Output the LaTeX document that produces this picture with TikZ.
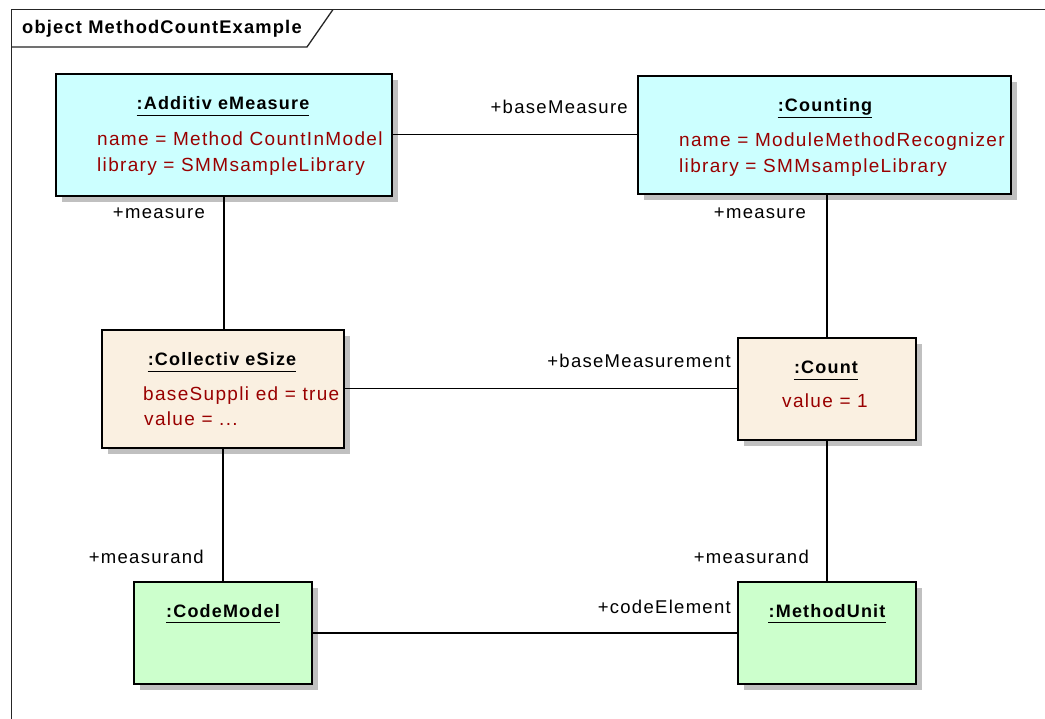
\documentclass[tikz,border=0pt]{standalone}
\usepackage{fontspec}
\setmainfont{Liberation Sans}
\newfontfamily\attrfont{Liberation Sans}[LetterSpace=7]
\newfontfamily\headfont{Liberation Sans}[LetterSpace=6.5]
\usetikzlibrary{shadows}

\definecolor{measurefill}{HTML}{CCFFFF}
\definecolor{valuefill}{HTML}{FAF0E1}
\definecolor{codefill}{HTML}{CCFFCC}
\definecolor{attrred}{HTML}{990000}
\definecolor{shadowgray}{HTML}{C0C0C0}

\tikzset{
  obj/.style={draw=black, line width=1.6pt, anchor=north west, inner sep=0pt,
    drop shadow={shadow xshift=6pt, shadow yshift=-6pt, fill=shadowgray, opacity=1}},
  measureobj/.style={obj, fill=measurefill},
  valueobj/.style={obj, fill=valuefill},
  codeobj/.style={obj, fill=codefill},
  objtitle/.style={anchor=base, inner sep=0pt,
    font=\headfont\fontsize{18}{21}\bfseries\selectfont},
  uline/.style={line width=1.4pt},
  attr/.style={anchor=base west, inner sep=0pt, text=attrred,
    font=\attrfont\fontsize{19}{22}\selectfont},
  rolelbl/.style={anchor=base east, inner sep=0pt,
    font=\attrfont\fontsize{18.5}{22}\selectfont},
  link/.style={line width=1.4pt},
  frameline/.style={line width=1.3pt, draw=black!85},
}

\begin{document}
\begin{tikzpicture}[x=1pt, y=-1pt]
\useasboundingbox (0,0) rectangle (1045,719);
\fill[white] (0,0) rectangle (1045,719);
\clip (0,0) rectangle (1045,719);

% diagram frame with its name tab
\draw[frameline] (11.5,740) -- (11.5,9.5) -- (1060,9.5);
\draw[frameline] (11.5,47) -- (307,47) -- (333,9.5);
\node[anchor=base west, inner sep=0pt, font=\headfont\fontsize{18.3}{21}\bfseries\selectfont]
  (frametitle) at (22,34) {object MethodCountExample};

% object boxes
\node[measureobj, minimum width=336pt, minimum height=122pt] (am) at (55,73) {};
\node[measureobj, minimum width=373pt, minimum height=118pt] (cnt) at (637,75) {};
\node[valueobj, minimum width=242pt, minimum height=118pt] (cs) at (101,329) {};
\node[valueobj, minimum width=178pt, minimum height=102pt] (co) at (737,337) {};
\node[codeobj, minimum width=178pt, minimum height=102pt] (cm) at (133,581) {};
\node[codeobj, minimum width=178pt, minimum height=102pt] (mu) at (737,581) {};

% connectors
\draw[link] (am.east) -- (am.east -| cnt.west);
\draw[link] (am.south) -- (am.south |- cs.north);
\draw[link] (co.north) -- (co.north |- cnt.south);
\draw[link] (cs.east) -- (co.west);
\draw[link] (cs.south) -- (cs.south |- cm.north);
\draw[link] (co.south) -- (mu.north);
\draw[link] (cm.east) -- (cm.east -| mu.west);

% object names
\node[objtitle] (amT) at (223,110) {:Additiv eMeasure};
\node[objtitle] (cntT) at (825,112) {:Counting};
\node[objtitle] (csT) at (222,366) {:Collectiv eSize};
\node[objtitle] (coT) at (826,374) {:Count};
\node[objtitle] (cmT) at (223,617) {:CodeModel};
\node[objtitle] (muT) at (827,617) {:MethodUnit};
\foreach \t in {amT,cntT,csT,coT,cmT,muT}{
  \draw[uline] ([yshift=-5.5pt]\t.base west) -- ([yshift=-5.5pt]\t.base east);
}

% attribute values
\node[attr] (amA1) at (97,146) {name = Method CountInModel};
\node[attr] (amA2) at (97,172) {library = SMMsampleLibrary};
\node[attr] (cntA1) at (679,147) {name = ModuleMethodRecognizer};
\node[attr] (cntA2) at (679,173) {library = SMMsampleLibrary};
\node[attr] (csA1) at (143,401) {baseSuppli ed = true};
\node[attr] (csA2) at (144,426) {value = ...};
\node[attr] (coA1) at (782,408) {value = 1};

% role names
\node[rolelbl] (r1) at (628,114) {+baseMeasure};
\node[rolelbl] (r2) at (205,219) {+measure};
\node[rolelbl] (r3) at (806,219) {+measure};
\node[rolelbl] (r4) at (731,368) {+baseMeasurement};
\node[rolelbl] (r5) at (204,563) {+measurand};
\node[rolelbl] (r6) at (809,563) {+measurand};
\node[rolelbl] (r7) at (731,613) {+codeElement};
\end{tikzpicture}
\end{document}
